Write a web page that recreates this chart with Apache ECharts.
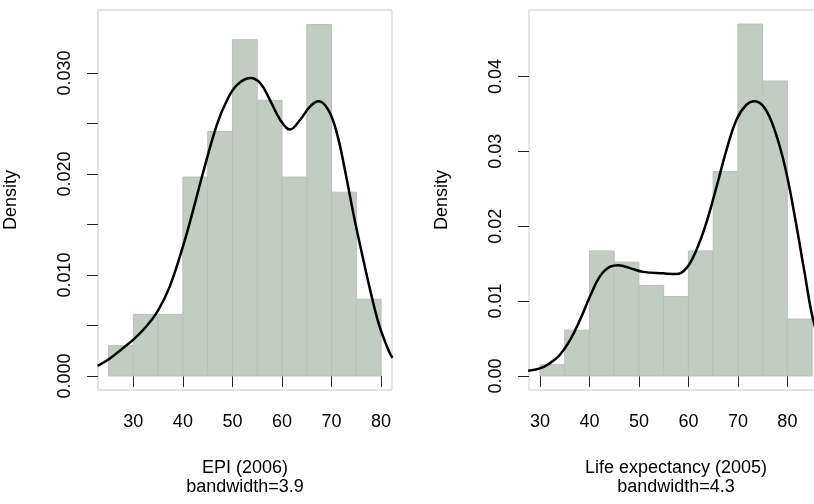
<!DOCTYPE html>
<html>
<head>
<meta charset="utf-8">
<script src="https://cdn.jsdelivr.net/npm/echarts@6/dist/echarts.min.js"></script>
<style>
  html, body { margin: 0; padding: 0; background: #fff; }
  #chart { width: 814px; height: 504px; }
</style>
</head>
<body>
<div id="chart"></div>
<script>
// EPI (2006) histogram + density
var epiBreaks = [25, 30, 35, 40, 45, 50, 55, 60, 65, 70, 75, 80];
var epiDensity = [0.0030, 0.0061, 0.0061, 0.0197, 0.0242, 0.0333, 0.0273, 0.0197, 0.0348, 0.0182, 0.0076];
var epiCurveX = [22.8, 25.2, 27.5, 30.0, 32.6, 35.0, 37.3, 40.0, 42.0, 44.0, 46.8, 48.9, 50.9, 53.6, 55.6, 57.6, 59.6, 61.6, 63.7, 65.7, 67.4, 69.4, 71.1, 72.7, 74.4, 76.1, 77.8, 79.5, 81.2, 82.3];
var epiCurveY = [0.0010, 0.0017, 0.0026, 0.0036, 0.0049, 0.0065, 0.0088, 0.0128, 0.0163, 0.0200, 0.0248, 0.0273, 0.0288, 0.0295, 0.0290, 0.0273, 0.0254, 0.0244, 0.0254, 0.0267, 0.0272, 0.0263, 0.0240, 0.0204, 0.0161, 0.0122, 0.0085, 0.0052, 0.0029, 0.0018];

// Life expectancy (2005) histogram + density
var lifeBreaks = [30, 35, 40, 45, 50, 55, 60, 65, 70, 75, 80, 85];
var lifeDensity = [0.0015, 0.0061, 0.0167, 0.0152, 0.0121, 0.0106, 0.0167, 0.0273, 0.0470, 0.0394, 0.0076];
var lifeCurveX = [27.6, 30.0, 32.0, 34.0, 36.1, 38.1, 40.1, 42.1, 44.2, 45.9, 48.2, 50.9, 54.9, 57.6, 59.6, 61.6, 63.6, 65.7, 67.7, 69.7, 71.7, 73.4, 75.4, 77.4, 79.5, 81.5, 83.5, 85.2, 87.3];
var lifeCurveY = [0.0007, 0.0010, 0.0017, 0.0028, 0.0048, 0.0075, 0.0106, 0.0133, 0.0146, 0.0148, 0.0144, 0.0139, 0.0137, 0.0136, 0.0144, 0.0168, 0.0204, 0.0253, 0.0302, 0.0342, 0.0362, 0.0367, 0.0358, 0.0329, 0.0280, 0.0213, 0.0137, 0.0075, 0.0030];

var xTicks = [30, 40, 50, 60, 70, 80];
var epiYTicks = [0, 0.005, 0.010, 0.015, 0.020, 0.025, 0.030];
var epiYLabels = [0, 0.010, 0.020, 0.030];
var lifeYTicks = [0, 0.01, 0.02, 0.03, 0.04];

var FONT = 'Liberation Sans, Arial, Helvetica, sans-serif';
var BAR_FILL = '#c2ccc2';
var BAR_EDGE = '#bdbdbd';

function histData(breaks, dens) {
  var out = [];
  for (var i = 0; i < dens.length; i++) {
    out.push([breaks[i], breaks[i + 1], dens[i]]);
  }
  return out;
}

function curveData(xs, ys) {
  return xs.map(function (x, i) { return [x, ys[i]]; });
}

function renderBin(params, api) {
  var p0 = api.coord([api.value(0), api.value(2)]);
  var p1 = api.coord([api.value(1), 0]);
  return {
    type: 'rect',
    shape: { x: p0[0], y: p0[1], width: p1[0] - p0[0], height: p1[1] - p0[1] },
    style: { fill: BAR_FILL, stroke: BAR_EDGE, lineWidth: 1 }
  };
}

function xAxisOf(idx, min, max, title) {
  return {
    gridIndex: idx, type: 'value', min: min, max: max,
    splitLine: { show: false },
    axisLine: { show: false },
    axisTick: { show: true, length: 11, customValues: xTicks, lineStyle: { color: '#222', width: 1 } },
    axisLabel: { customValues: xTicks, margin: 23, color: '#000', fontSize: 18, fontFamily: FONT },
    name: title, nameLocation: 'middle', nameGap: 69,
    nameTextStyle: { color: '#000', fontSize: 18, fontFamily: FONT, lineHeight: 19 }
  };
}

function yAxisOf(idx, min, max, ticks, labels, digits) {
  return {
    gridIndex: idx, type: 'value', min: min, max: max,
    splitLine: { show: false },
    axisLine: { show: false },
    axisTick: { show: true, length: 11, customValues: ticks, lineStyle: { color: '#222', width: 1 } },
    axisLabel: {
      customValues: labels, rotate: 90, margin: 24, color: '#000', fontSize: 18, fontFamily: FONT,
      formatter: function (v) { return v.toFixed(digits); }
    },
    name: 'Density', nameLocation: 'middle', nameGap: 78, nameRotate: 90,
    nameTextStyle: { color: '#000', fontSize: 18, fontFamily: FONT }
  };
}

var chart = echarts.init(document.getElementById('chart'), null, { renderer: 'canvas' });

chart.setOption({
  animation: false,
  backgroundColor: '#fff',
  grid: [
    { left: 98, top: 10, width: 294, height: 380, show: true, borderColor: '#cccccc', borderWidth: 1, outerBoundsMode: 'none', containLabel: false },
    { left: 529, top: 10, width: 294, height: 380, show: true, borderColor: '#cccccc', borderWidth: 1, outerBoundsMode: 'none', containLabel: false }
  ],
  xAxis: [
    xAxisOf(0, 22.87, 82.2, 'EPI (2006)\nbandwidth=3.9'),
    xAxisOf(1, 27.78, 87.2, 'Life expectancy (2005)\nbandwidth=4.3')
  ],
  yAxis: [
    yAxisOf(0, -0.00139, 0.03624, epiYTicks, epiYLabels, 3),
    yAxisOf(1, -0.00188, 0.04888, lifeYTicks, lifeYTicks, 2)
  ],
  series: [
    {
      type: 'custom', xAxisIndex: 0, yAxisIndex: 0,
      renderItem: renderBin, encode: { x: [0, 1], y: 2 },
      data: histData(epiBreaks, epiDensity)
    },
    {
      type: 'line', xAxisIndex: 0, yAxisIndex: 0, smooth: 0.4, showSymbol: false,
      lineStyle: { color: '#000', width: 2.5 },
      data: curveData(epiCurveX, epiCurveY)
    },
    {
      type: 'custom', xAxisIndex: 1, yAxisIndex: 1,
      renderItem: renderBin, encode: { x: [0, 1], y: 2 },
      data: histData(lifeBreaks, lifeDensity)
    },
    {
      type: 'line', xAxisIndex: 1, yAxisIndex: 1, smooth: 0.4, showSymbol: false,
      lineStyle: { color: '#000', width: 2.5 },
      data: curveData(lifeCurveX, lifeCurveY)
    }
  ]
});
</script>
</body>
</html>
